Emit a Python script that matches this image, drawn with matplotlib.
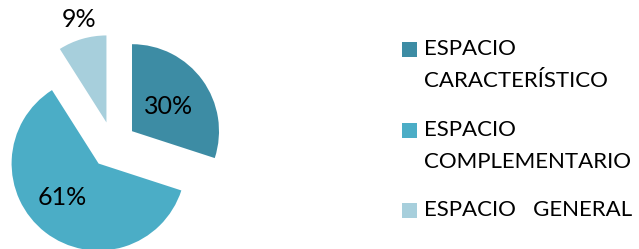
import numpy as np
import matplotlib
matplotlib.use("Agg")
import matplotlib.pyplot as plt
from matplotlib.patches import Rectangle

categories = ["ESPACIO\nCARACTERÍSTICO", "ESPACIO\nCOMPLEMENTARIO", "ESPACIO   GENERAL"]
values = [30, 61, 9]
pct_labels = ["30%", "61%", "9%"]
colors = ["#3D8CA4", "#4BADC6", "#A7CFDC"]

plt.rcParams['font.family'] = ['Lato', 'DejaVu Sans']

W, H = 639, 249
fig = plt.figure(figsize=(W/100, H/100), dpi=100)

R = 87.0
cx, cy = 113.0, 104.0  # pixels from left/bottom
ax_w = 260
ax = fig.add_axes([0, 0, ax_w/W, 1])
ax.axis('off')

explode = [0.27, 0.27, 0.27]
wedges, _ = ax.pie(values, colors=colors, startangle=90, counterclock=False,
                   explode=explode, radius=1.0,
                   wedgeprops=dict(linewidth=0))
ax.set_aspect('auto')
ax.set_xlim(-cx/R, (ax_w-cx)/R)
ax.set_ylim(-cy/R, (H-cy)/R)

label_dist = [0.78, 0.84, 1.49]
label_shift = [-1, -6, -1]
for w, lab, d, s in zip(wedges, pct_labels, label_dist, label_shift):
    a = np.deg2rad((w.theta1 + w.theta2) / 2 + s)
    ax.text(d*np.cos(a), d*np.sin(a), lab, ha='center', va='center',
            fontsize=18, color='black')

# legend
sq = 15
sq_x = 402
sq_tops = [42, 123, 203]
text_x = 424
for cat, col, t in zip(categories, colors, sq_tops):
    fig.patches.append(Rectangle((sq_x/W, 1-(t+sq)/H), sq/W, sq/H,
                                 transform=fig.transFigure, facecolor=col,
                                 edgecolor='none'))
    fig.text(text_x/W, 1-(t-3)/H, cat, ha='left', va='top', fontsize=16,
             linespacing=1.75, color='black')

fig.savefig("out.png", dpi=100)
